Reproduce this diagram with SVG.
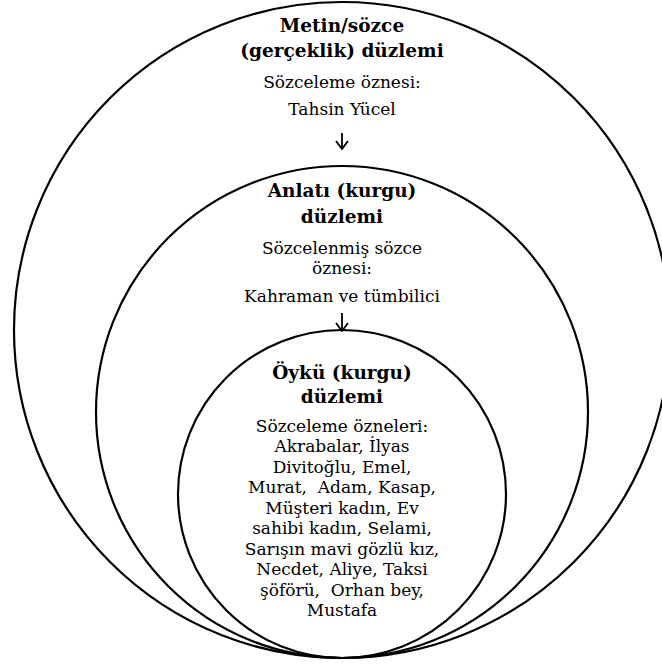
<svg xmlns="http://www.w3.org/2000/svg" width="662" height="665" viewBox="0 0 662 665">
<defs>
<style>
.ring{fill:none;stroke:#000;stroke-width:2.2}
text{font-family:"DejaVu Serif","Liberation Serif",serif;font-size:17px;fill:#000;text-anchor:middle;white-space:pre}
.h{font-weight:bold;font-size:18.5px}
.c{fill:none;stroke:#000;stroke-width:1.8}
</style>
<marker id="ah" viewBox="0 0 10 14" refX="9" refY="7" markerWidth="10" markerHeight="14" markerUnits="userSpaceOnUse" orient="auto">
<path d="M1,1 L9,7 L1,13" fill="none" stroke="#000" stroke-width="1.8"/>
</marker>
</defs>
<rect width="662" height="665" fill="#fff"/>
<g id="metin">
<circle class="ring" cx="342" cy="330" r="328"/>
<text class="h" x="342" y="32">Metin/sözce</text>
<text class="h" x="342" y="57">(gerçeklik) düzlemi</text>
<text x="342" y="88">Sözceleme öznesi:</text>
<text x="342" y="115">Tahsin Yücel</text>
</g>
<g id="anlati">
<circle class="ring" cx="342" cy="412" r="246"/>
<text class="h" x="342" y="197">Anlatı (kurgu)</text>
<text class="h" x="342" y="223">düzlemi</text>
<text x="342" y="254">Sözcelenmiş sözce</text>
<text x="342" y="274">öznesi:</text>
<text x="342" y="302">Kahraman ve tümbilici</text>
</g>
<g id="oyku">
<circle class="ring" cx="342" cy="494" r="164"/>
<text class="h" x="342" y="379">Öykü (kurgu)</text>
<text class="h" x="342" y="403">düzlemi</text>
<text x="342" y="431.5">Sözceleme özneleri:</text>
<text x="342" y="452">Akrabalar, İlyas</text>
<text x="342" y="472.5">Divitoğlu, Emel,</text>
<text x="342" y="493" xml:space="preserve">Murat,  Adam, Kasap,</text>
<text x="342" y="513.5">Müşteri kadın, Ev</text>
<text x="342" y="534">sahibi kadın, Selami,</text>
<text x="342" y="554.5">Sarışın mavi gözlü kız,</text>
<text x="342" y="575">Necdet, Aliye, Taksi</text>
<text x="342" y="595.5" xml:space="preserve">şöförü,  Orhan bey,</text>
<text x="342" y="616">Mustafa</text>
</g>
<g id="connectors">
<path class="c" d="M342,133 V149" marker-end="url(#ah)"/>
<path class="c" d="M342,313 V331" marker-end="url(#ah)"/>
</g>
</svg>
